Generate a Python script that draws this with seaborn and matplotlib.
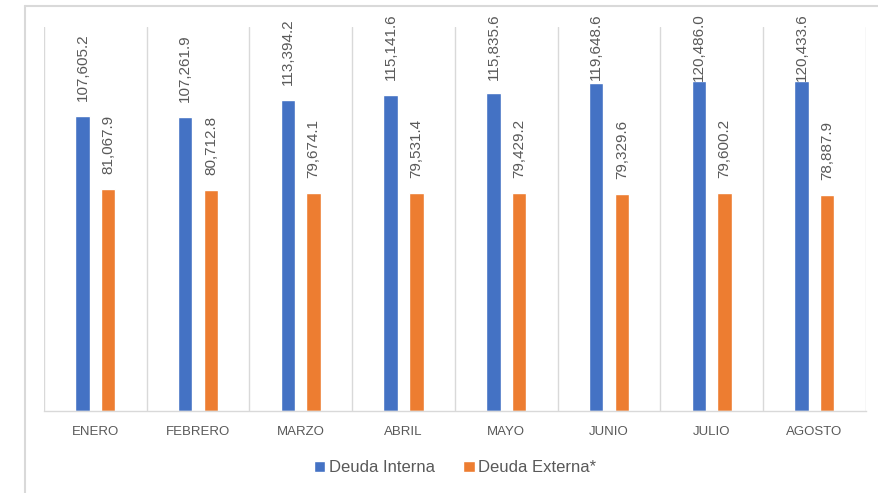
import matplotlib
matplotlib.use("Agg")
import matplotlib.pyplot as plt
from matplotlib.lines import Line2D
import seaborn as sns
import pandas as pd

# -- datos del grafico
meses = ['ENERO', 'FEBRERO', 'MARZO', 'ABRIL', 'MAYO', 'JUNIO', 'JULIO', 'AGOSTO']
deuda_interna = [107605.2, 107261.9, 113394.2, 115141.6, 115835.6, 119648.6, 120486.0, 120433.6]
deuda_externa = [81067.9, 80712.8, 79674.1, 79531.4, 79429.2, 79329.6, 79600.2, 78887.9]
series = ['Deuda Interna', 'Deuda Externa*']
colores = ['#4472C4', '#ED7D31']

df = pd.DataFrame({
    'mes': meses * 2,
    'serie': [series[0]] * len(meses) + [series[1]] * len(meses),
    'valor': deuda_interna + deuda_externa,
})

sns.set_style('white')
plt.rcParams['font.family'] = ['Liberation Sans', 'DejaVu Sans']
gris = '#595959'
linea = '#d9d9d9'
DPI = 100

fig = plt.figure(figsize=(8.79, 4.93), dpi=DPI)
ax = fig.add_axes([0.050, 0.166, 0.935, 0.779])

sns.barplot(data=df, x='mes', y='valor', hue='serie', order=meses, hue_order=series,
            palette=colores, width=0.5, saturation=1, ax=ax, legend=True)

# barras mas delgadas, manteniendo el centro
ancho = 0.14
for p in ax.patches:
    if p.get_height() > 0:
        c = p.get_x() + p.get_width() / 2
        p.set_width(ancho)
        p.set_x(c - ancho / 2)

ax.set_ylim(0, 140000)
ax.set_xlim(-0.5, len(meses) - 0.5)
ax.set_yticks([])
ax.set_xlabel('')
ax.set_ylabel('')
ax.tick_params(axis='x', length=0, pad=11, labelsize=9.5, labelcolor=gris)

# lineas verticales entre categorias
for i in range(len(meses) + 1):
    ax.axvline(i - 0.5, color=linea, lw=1, zorder=0)

for s in ['top', 'right', 'left']:
    ax.spines[s].set_visible(False)
ax.spines['bottom'].set_color(linea)
ax.spines['bottom'].set_linewidth(1)

# etiquetas de datos: encima de la barra, sin salirse del area del grafico
fig.canvas.draw()
renderer = fig.canvas.get_renderer()
limite_px = fig.bbox.height - 13  # borde superior permitido (pixeles)
for cont in ax.containers:
    for barra, v in zip(cont.patches, cont.datavalues):
        xc = barra.get_x() + barra.get_width() / 2
        t = ax.annotate(f'{v:,.1f}', (xc, v), xytext=(0, 0), textcoords='offset points',
                        rotation=90, ha='center', va='bottom', fontsize=11, color=gris)
        largo = t.get_window_extent(renderer).height
        top_barra = ax.transData.transform((xc, v))[1]
        desp = min(15, limite_px - top_barra - largo)
        t.set_position((0, desp * 72 / DPI))

ax.legend(loc='center', bbox_to_anchor=(0.5177, 0.051), bbox_transform=fig.transFigure,
          ncol=2, frameon=False, fontsize=12, labelcolor=gris, handlelength=0.7,
          handleheight=0.7, handletextpad=0.2, columnspacing=1.7)

# marco exterior (parcial)
fig.add_artist(Line2D([0.0284, 0.0284], [0, 0.988], color=linea, lw=1.5))
fig.add_artist(Line2D([0.0284, 1.0], [0.988, 0.988], color=linea, lw=1.5))

fig.savefig('out.png', dpi=DPI)
